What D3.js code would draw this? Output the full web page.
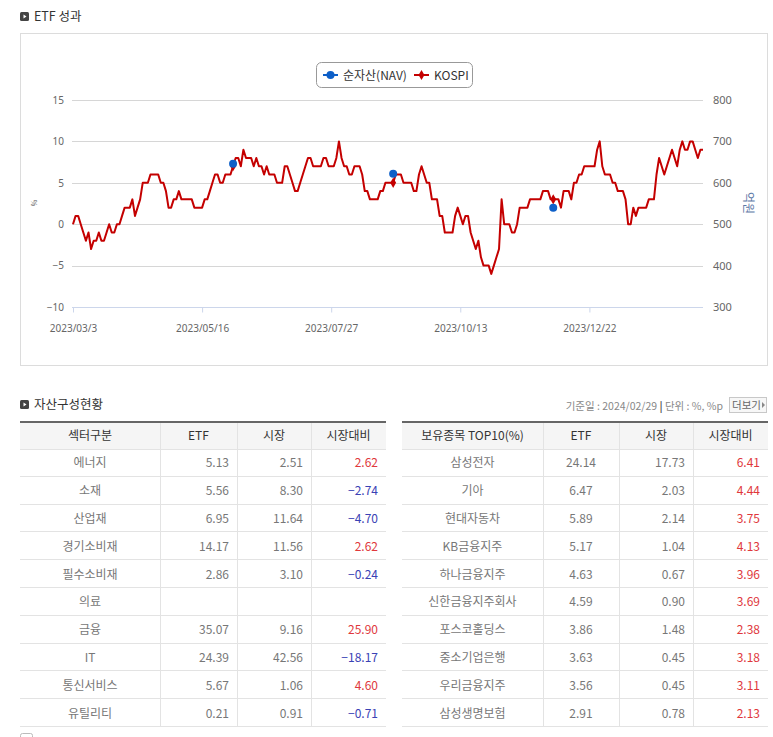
<!DOCTYPE html>
<html>
<head>
<meta charset="utf-8">
<script src="https://cdn.jsdelivr.net/npm/d3@7"></script>
<style>
  body { margin: 0; background: #fff; }
  svg { display: block; font-family: "Noto Sans CJK KR", "Noto Sans", sans-serif; }
</style>
</head>
<body>
<div id="chart"></div>
<script>
// ETF 성과 : KOSPI (%) daily, NAV points (억원)
const kospi = [
  0, 1, 1, 0, -1, -2, -1, -3, -2, -2,
  -1, -2, -2, -1, 0, -1, -1, 0, 0, 1,
  2, 2, 2, 3, 1, 2, 3, 5, 5, 5,
  6, 6, 6, 6, 5, 5, 4, 2, 2, 3,
  3, 4, 3, 3, 3, 3, 3, 2, 2, 2,
  2, 3, 3, 4, 5, 6, 6, 5, 5, 6,
  6, 6, 7, 8, 8, 7, 9, 8, 8, 8,
  7, 8, 7, 7, 6, 7, 6, 6, 6, 5,
  5, 5, 7, 7, 6, 5, 4, 4, 5, 6,
  7, 8, 8, 7, 7, 7, 7, 8, 8, 7,
  7, 7, 8, 10, 8, 7, 7, 6, 6, 7,
  7, 7, 6, 4, 4, 3, 3, 3, 3, 4,
  4, 5, 5, 5, 5, 6, 6, 6, 5, 5,
  5, 5, 4, 4, 6, 7, 6, 5, 5, 3,
  3, 3, 1, 1, -1, -1, -1, -1, 1, 2,
  1, 0, 1, 1, -1, -2, -3, -2, -4, -5,
  -5, -5, -6, -5, -4, -3, 3, 0, 0, 0,
  -1, -1, 0, 2, 2, 2, 2, 3, 3, 3,
  3, 3, 4, 4, 4, 3, 3, 3, 3, 2,
  4, 4, 4, 3, 5, 5, 6, 6, 7, 7,
  7, 7, 7, 9, 10, 7, 6, 6, 6, 5,
  5, 4, 4, 4, 3, 0, 0, 2, 1, 2,
  2, 2, 2, 3, 3, 3, 6, 8, 7, 6,
  7, 8, 9, 8, 7, 9, 10, 9, 9, 10,
  10, 9, 8, 9, 9
];
const navIndex = [62, 124, 186];
const navValues = [646, 622, 540];
const dateTickIndex = [0, 50, 100, 150, 200];
const dateTickLabels = ["2023/03/3", "2023/05/16", "2023/07/27", "2023/10/13", "2023/12/22"];
const leftTicks = [-10, -5, 0, 5, 10, 15];
const rightTicks = [300, 400, 500, 600, 700, 800];

// 자산구성현황
const sectorHeader = ["섹터구분", "ETF", "시장", "시장대비"];
const sectors = ["에너지", "소재", "산업재", "경기소비재", "필수소비재", "의료", "금융", "IT", "통신서비스", "유틸리티"];
const sectorEtf = [5.13, 5.56, 6.95, 14.17, 2.86, null, 35.07, 24.39, 5.67, 0.21];
const sectorMkt = [2.51, 8.30, 11.64, 11.56, 3.10, null, 9.16, 42.56, 1.06, 0.91];
const sectorDiff = [2.62, -2.74, -4.70, 2.62, -0.24, null, 25.90, -18.17, 4.60, -0.71];

const holdHeader = ["보유종목 TOP10(%)", "ETF", "시장", "시장대비"];
const holdings = ["삼성전자", "기아", "현대자동차", "KB금융지주", "하나금융지주", "신한금융지주회사", "포스코홀딩스", "중소기업은행", "우리금융지주", "삼성생명보험"];
const holdEtf = [24.14, 6.47, 5.89, 5.17, 4.63, 4.59, 3.86, 3.63, 3.56, 2.91];
const holdMkt = [17.73, 2.03, 2.14, 1.04, 0.67, 0.90, 1.48, 0.45, 0.45, 0.78];
const holdDiff = [6.41, 4.44, 3.75, 4.13, 3.96, 3.69, 2.38, 3.18, 3.11, 2.13];

const W = 773, H = 737;
const svg = d3.select("#chart").append("svg").attr("width", W).attr("height", H);

// section title with the little dark icon
function sectionTitle(x, y, label) {
  const g = svg.append("g").attr("transform", `translate(${x},${y})`);
  g.append("rect").attr("width", 9).attr("height", 9).attr("rx", 1.5).attr("fill", "#444");
  g.append("path").attr("d", "M3.5,2.5 L6.5,4.5 L3.5,6.5 Z").attr("fill", "#fff");
  g.append("text").attr("x", 14).attr("y", 8.5).attr("font-size", 12.5).attr("fill", "#333").text(label);
}

sectionTitle(20, 12, "ETF 성과");

// chart frame
svg.append("rect").attr("x", 20.5).attr("y", 33.5).attr("width", 747).attr("height", 332)
  .attr("fill", "#fff").attr("stroke", "#dcdcdc");

const x = d3.scaleLinear().domain([0, kospi.length - 1]).range([73, 703]);
const yL = d3.scaleLinear().domain([-10, 15]).range([307, 100]);
const yR = d3.scaleLinear().domain([300, 800]).range([307, 100]);

// gridlines
svg.append("g").selectAll("line").data(leftTicks.filter(d => d > -10)).join("line")
  .attr("x1", 72).attr("x2", 703)
  .attr("y1", d => Math.round(yL(d)) + 0.5).attr("y2", d => Math.round(yL(d)) + 0.5)
  .attr("stroke", "#d6d6d6").attr("stroke-width", 1.2);

// x axis
const xAxis = svg.append("g").attr("transform", `translate(0,${Math.round(yL(-10)) + 0.5})`)
  .call(d3.axisBottom(x).tickValues(dateTickIndex).tickFormat((d, i) => dateTickLabels[i]).tickSize(5).tickSizeOuter(0).tickPadding(12));
xAxis.select(".domain").attr("stroke", "#ccd6eb").attr("d", "M72,0H703");
xAxis.selectAll(".tick line").attr("stroke", "#ccd6eb");
xAxis.selectAll(".tick text").attr("fill", "#666").attr("font-size", 10).attr("font-family", "Noto Sans, sans-serif");

// left axis
const yAxisL = svg.append("g").attr("transform", "translate(72,0)")
  .call(d3.axisLeft(yL).tickValues(leftTicks).tickSize(0).tickPadding(8));
yAxisL.select(".domain").remove();
yAxisL.selectAll("text").attr("fill", "#666").attr("font-size", 10).attr("font-family", "Noto Sans, sans-serif");

// right axis
const yAxisR = svg.append("g").attr("transform", "translate(703,0)")
  .call(d3.axisRight(yR).tickValues(rightTicks).tickSize(0).tickPadding(10));
yAxisR.select(".domain").remove();
yAxisR.selectAll("text").attr("fill", "#666").attr("font-size", 11).attr("font-family", "Noto Sans, sans-serif");

// axis titles
svg.append("text").attr("transform", "translate(37,203) rotate(-90)").attr("text-anchor", "middle")
  .attr("font-size", 7).attr("fill", "#555").text("%");
svg.append("text").attr("transform", "translate(744,203) rotate(90)").attr("text-anchor", "middle")
  .attr("font-size", 12).attr("fill", "#5c78a6").text("억원");

// KOSPI line
const line = d3.line().x((d, i) => x(i)).y(d => yL(d));
svg.append("path").datum(kospi).attr("d", line)
  .attr("fill", "none").attr("stroke", "#c40000").attr("stroke-width", 2).attr("stroke-linejoin", "round");

// KOSPI markers where NAV is reported
const diamond = d3.symbol().type(d3.symbolDiamond).size(30);
svg.append("g").selectAll("path").data(navIndex).join("path")
  .attr("d", diamond).attr("transform", d => `translate(${x(d)},${yL(kospi[d])})`)
  .attr("fill", "#c40000");

// NAV points
svg.append("g").selectAll("circle").data(navIndex).join("circle")
  .attr("cx", d => x(d)).attr("cy", (d, i) => yR(navValues[i])).attr("r", 4)
  .attr("fill", "#0d5fc8");

// legend
const lg = svg.append("g").attr("transform", "translate(316,62)");
lg.append("rect").attr("x", 0.5).attr("y", 0.5).attr("width", 156).attr("height", 25).attr("rx", 5)
  .attr("fill", "#fff").attr("stroke", "#999");
lg.append("line").attr("x1", 7).attr("x2", 22).attr("y1", 13).attr("y2", 13).attr("stroke", "#0d5fc8").attr("stroke-width", 2);
lg.append("circle").attr("cx", 14.5).attr("cy", 13).attr("r", 4).attr("fill", "#0d5fc8");
lg.append("text").attr("x", 27).attr("y", 17.5).attr("font-size", 12).attr("fill", "#333").text("순자산(NAV)");
lg.append("line").attr("x1", 98).attr("x2", 113).attr("y1", 13).attr("y2", 13).attr("stroke", "#c40000").attr("stroke-width", 2);
lg.append("path").attr("d", diamond).attr("transform", "translate(105.5,13)").attr("fill", "#c40000");
lg.append("text").attr("x", 118).attr("y", 17.5).attr("font-size", 12).attr("fill", "#333").text("KOSPI");

// ---- 자산구성현황 ----
sectionTitle(20, 400, "자산구성현황");

const info = svg.append("text").attr("x", 723).attr("y", 409.5).attr("text-anchor", "end")
  .attr("font-size", 10.5).attr("fill", "#888");
info.append("tspan").text("기준일 : 2024/02/29 ");
info.append("tspan").attr("font-weight", "bold").attr("fill", "#555").text("|");
info.append("tspan").text(" 단위 : %, %p");

const more = svg.append("g").attr("transform", "translate(729,397)");
more.append("rect").attr("x", 0.5).attr("y", 0.5).attr("width", 37).attr("height", 15)
  .attr("fill", "#f7f7f7").attr("stroke", "#c8c8c8");
more.append("text").attr("x", 3).attr("y", 12).attr("font-size", 10.5).attr("fill", "#666").text("더보기");
more.append("path").attr("d", "M33,5 L36,8 L33,11 Z").attr("fill", "#888");

const fmt = d3.format(".2f");
const rowH = 27.8, headTop = 421, headH = 28;

function drawTable(left, cols, header, names, etf, mkt, diff, etfAlign) {
  const g = svg.append("g");
  const right = cols[cols.length - 1];
  const bodyTop = headTop + headH;
  const bottom = bodyTop + rowH * names.length;

  g.append("rect").attr("x", left).attr("y", headTop).attr("width", right - left).attr("height", headH)
    .attr("fill", "#f5f5f5");
  g.append("line").attr("x1", left).attr("x2", right).attr("y1", headTop + 1).attr("y2", headTop + 1)
    .attr("stroke", "#666").attr("stroke-width", 2);

  // row separators
  g.selectAll("line.row").data(d3.range(names.length)).join("line").attr("class", "row")
    .attr("x1", left).attr("x2", right)
    .attr("y1", i => Math.round(bodyTop + rowH * (i + 1)) - 0.5)
    .attr("y2", i => Math.round(bodyTop + rowH * (i + 1)) - 0.5)
    .attr("stroke", "#e3e3e3");
  g.append("line").attr("x1", left).attr("x2", right).attr("y1", bodyTop + 0.5).attr("y2", bodyTop + 0.5)
    .attr("stroke", "#e3e3e3");

  // column separators
  g.selectAll("line.col").data(cols.slice(1, -1)).join("line").attr("class", "col")
    .attr("x1", d => d + 0.5).attr("x2", d => d + 0.5).attr("y1", headTop + 2).attr("y2", bottom)
    .attr("stroke", "#e3e3e3");

  // header
  g.selectAll("text.head").data(header).join("text").attr("class", "head")
    .attr("x", (d, i) => (cols[i] + cols[i + 1]) / 2).attr("y", headTop + headH / 2 + 4.5)
    .attr("text-anchor", "middle").attr("font-size", 12).attr("fill", "#333").text(d => d);

  const rows = g.selectAll("g.r").data(names).join("g").attr("class", "r")
    .attr("transform", (d, i) => `translate(0,${bodyTop + rowH * i + rowH / 2 + 4.5})`);

  rows.append("text").attr("x", (cols[0] + cols[1]) / 2).attr("text-anchor", "middle")
    .attr("font-size", 12).attr("fill", "#777").text(d => d);

  rows.append("text")
    .attr("x", etfAlign === "middle" ? (cols[1] + cols[2]) / 2 : cols[2] - 8)
    .attr("text-anchor", etfAlign)
    .attr("font-size", 12).attr("fill", "#777")
    .text((d, i) => etf[i] == null ? "" : fmt(etf[i]));
  rows.append("text").attr("x", cols[3] - 8).attr("text-anchor", "end")
    .attr("font-size", 12).attr("fill", "#777")
    .text((d, i) => mkt[i] == null ? "" : fmt(mkt[i]));
  rows.append("text").attr("x", cols[4] - 8).attr("text-anchor", "end")
    .attr("font-size", 12).attr("fill", (d, i) => diff[i] < 0 ? "#3a42b5" : "#e0383c")
    .text((d, i) => diff[i] == null ? "" : fmt(diff[i]).replace("-", "\u2212"));
}

drawTable(20, [20, 160, 237, 311, 386], sectorHeader, sectors, sectorEtf, sectorMkt, sectorDiff, "end");
drawTable(402, [402, 543, 619, 693, 768], holdHeader, holdings, holdEtf, holdMkt, holdDiff, "middle");

// small box under the tables (cut off by the window)
svg.append("rect").attr("x", 20.5).attr("y", 733.5).attr("width", 12).attr("height", 10).attr("rx", 2)
  .attr("fill", "#fff").attr("stroke", "#bbb");
</script>
</body>
</html>
